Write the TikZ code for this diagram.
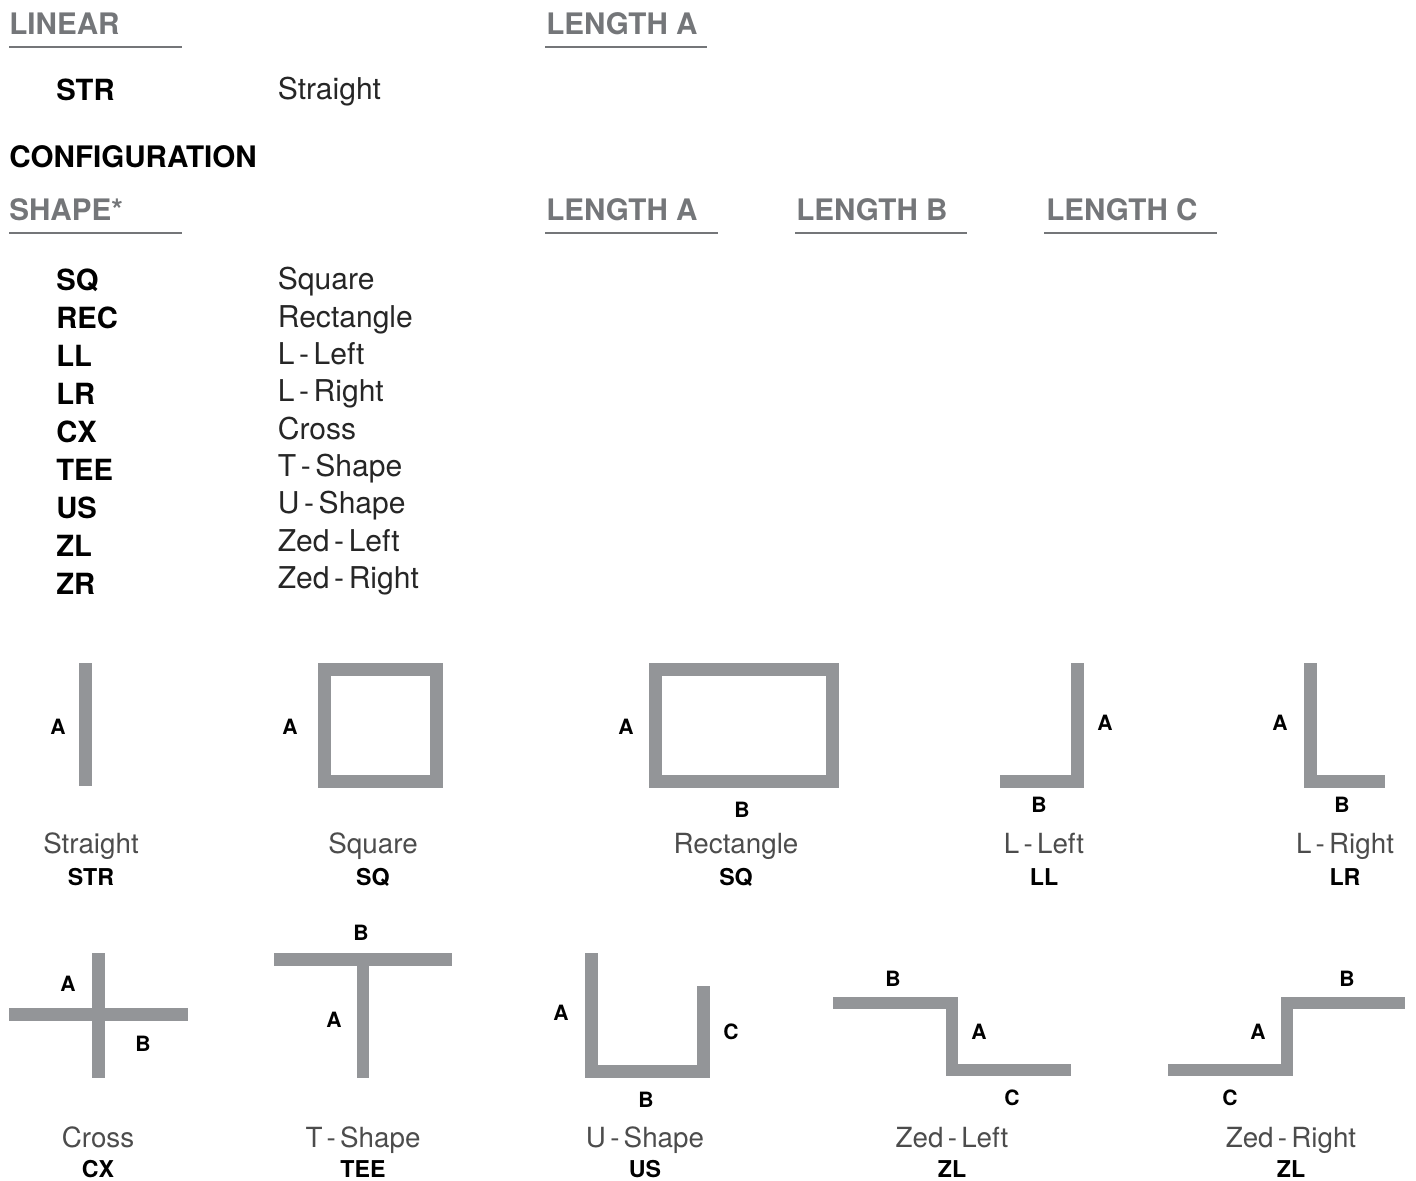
\documentclass[tikz,border=0pt]{standalone}
\usepackage{fontspec}
\setmainfont{TeX Gyre Heros}
\newfontfamily\descfont[WordSpace=0.25]{TeX Gyre Heros}
\newfontfamily\captfont[WordSpace=0.55]{TeX Gyre Heros}
\definecolor{headgray}{RGB}{116,118,121}
\definecolor{bargray}{RGB}{147,149,152}
\tikzset{
  head/.style={anchor=base west,inner sep=0pt,text=headgray,font=\fontsize{16.85}{18}\selectfont\bfseries},
  title/.style={anchor=base west,inner sep=0pt,text=black,font=\fontsize{16.85}{18}\selectfont\bfseries},
  code/.style={anchor=base west,inner sep=0pt,font=\fontsize{16.6}{18}\selectfont\bfseries},
  desc/.style={anchor=base west,inner sep=0pt,text=black!85,font=\descfont\fontsize{17.1}{18}\selectfont},
  rulel/.style={draw=headgray,line width=0.6pt},
  barl/.style={draw=bargray,line width=7.37pt,line cap=butt,line join=miter},
  dimen/.style={anchor=center,inner sep=0pt,font=\fontsize{12}{13}\selectfont\bfseries},
  capt/.style={anchor=base,inner sep=0pt,text=black!70,font=\captfont\fontsize{15.8}{18}\selectfont},
  captcode/.style={anchor=base,inner sep=0pt,font=\fontsize{13.2}{14}\selectfont\bfseries}
}
\begin{document}
\begin{tikzpicture}[x=0.02cm,y=-0.02cm]
  \useasboundingbox (0,0) rectangle (1416,1180);
  % headers
  \node[head] (linear) at (9,34) {LINEAR};
  \node[head] (lenlin) at (546,34) {LENGTH A};
  \node[code] (str) at (56,100) {STR};
  \node[desc] (strd) at (277.5,99) {Straight};
  \node[title] (config) at (9,167) {CONFIGURATION};
  \node[head] (shape) at (9,220) {SHAPE*};
  \node[head] (lena) at (546,220) {LENGTH A};
  \node[head] (lenb) at (796,220) {LENGTH B};
  \node[head] (lenc) at (1046,220) {LENGTH C};
  \draw[rulel] (9,47) -- (182,47);
  \draw[rulel] (545,47) -- (707,47);
  \draw[rulel] (9,233) -- (182,233);
  \draw[rulel] (545,233) -- (718,233);
  \draw[rulel] (795,233) -- (967,233);
  \draw[rulel] (1044,233) -- (1217,233);
  % codes
  \node[code] (sq) at (56,290) {SQ};
  \node[code] (rec) at (56,328) {REC};
  \node[code] (ll) at (56,366) {LL};
  \node[code] (lr) at (56,404) {LR};
  \node[code] (cx) at (56,442) {CX};
  \node[code] (tee) at (56,480) {TEE};
  \node[code] (us) at (56,518) {US};
  \node[code] (zl) at (56,556) {ZL};
  \node[code] (zr) at (56,594) {ZR};
  \node[desc] (sqd) at (277.5,289) {Square};
  \node[desc] (recd) at (277.5,327) {Rectangle};
  \node[desc] (lld) at (277.5,364) {L - Left};
  \node[desc] (lrd) at (277.5,401) {L - Right};
  \node[desc] (cxd) at (277.5,439) {Cross};
  \node[desc] (teed) at (277.5,476) {T - Shape};
  \node[desc] (usd) at (277.5,513) {U - Shape};
  \node[desc] (zld) at (277.5,551) {Zed - Left};
  \node[desc] (zrd) at (277.5,588) {Zed - Right};
  % first row
  \draw[barl] (85.5,663) -- (85.5,786);
  \draw[barl] (324.5,669.5) rectangle (436.5,781.5);
  \draw[barl] (655.5,669.5) rectangle (832.5,781.5);
  \draw[barl] (1077.5,663) -- (1077.5,781.5) -- (1000,781.5);
  \draw[barl] (1310.5,663) -- (1310.5,781.5) -- (1385,781.5);
  \node[dimen] (stra) at (58,727) {A};
  \node[dimen] (sqa) at (290,727) {A};
  \node[dimen] (reca) at (626,727) {A};
  \node[dimen] (recb) at (742,810) {B};
  \node[dimen] (lla) at (1105,723) {A};
  \node[dimen] (llb) at (1039,805) {B};
  \node[dimen] (lra) at (1280,723) {A};
  \node[dimen] (lrb) at (1342,805) {B};
  \node[capt] (strc) at (91,853) {Straight};
  \node[capt] (sqc) at (373,853) {Square};
  \node[capt] (recc) at (736,853) {Rectangle};
  \node[capt] (llc) at (1044,853) {L - Left};
  \node[capt] (lrc) at (1345,853) {L - Right};
  \node[captcode] (strk) at (91,885) {STR};
  \node[captcode] (sqk) at (373,885) {SQ};
  \node[captcode] (reck) at (736,885) {SQ};
  \node[captcode] (llk) at (1044,885) {LL};
  \node[captcode] (lrk) at (1345,885) {LR};
  % second row
  \draw[barl] (98.5,953) -- (98.5,1078);
  \draw[barl] (9,1014.5) -- (188,1014.5);
  \draw[barl] (274,959.5) -- (452,959.5);
  \draw[barl] (363,959.5) -- (363,1078);
  \draw[barl] (591.5,953) -- (591.5,1071.5) -- (703.5,1071.5) -- (703.5,986);
  \draw[barl] (833,1003) -- (952,1003) -- (952,1070) -- (1071,1070);
  \draw[barl] (1168,1070) -- (1287,1070) -- (1287,1003) -- (1405,1003);
  \node[dimen] (cxa) at (68,984) {A};
  \node[dimen] (cxb) at (143,1044) {B};
  \node[dimen] (teeb) at (361,933) {B};
  \node[dimen] (teea) at (334,1020) {A};
  \node[dimen] (usa) at (561,1013) {A};
  \node[dimen] (usb) at (646,1100) {B};
  \node[dimen] (usc) at (731,1032) {C};
  \node[dimen] (zlb) at (893,979) {B};
  \node[dimen] (zla) at (979,1032) {A};
  \node[dimen] (zlc) at (1012,1098) {C};
  \node[dimen] (zrb) at (1347,979) {B};
  \node[dimen] (zra) at (1258,1032) {A};
  \node[dimen] (zrc) at (1230,1098) {C};
  \node[capt] (cxc) at (98,1147) {Cross};
  \node[capt] (teec) at (363,1147) {T - Shape};
  \node[capt] (uscap) at (645,1147) {U - Shape};
  \node[capt] (zlcap) at (952,1147) {Zed - Left};
  \node[capt] (zrcap) at (1291,1147) {Zed - Right};
  \node[captcode] (cxk) at (98,1177) {CX};
  \node[captcode] (teek) at (363,1177) {TEE};
  \node[captcode] (usk) at (645,1177) {US};
  \node[captcode] (zlk) at (952,1177) {ZL};
  \node[captcode] (zrk) at (1291,1177) {ZL};
\end{tikzpicture}
\end{document}
